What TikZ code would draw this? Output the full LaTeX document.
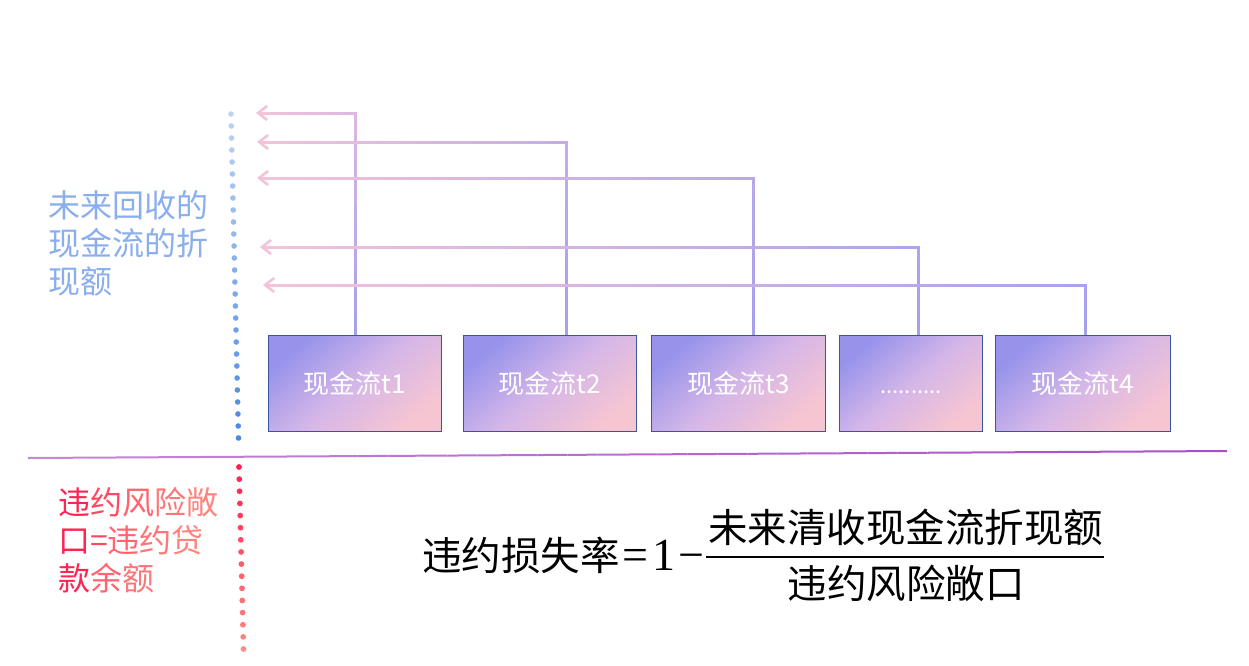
\documentclass[tikz,border=0pt]{standalone}
\usepackage{fontspec}
\usetikzlibrary{arrows.meta,calc}
\newfontfamily\cjk{Noto Sans CJK SC}
\newfontfamily\tnr{Liberation Serif}
\IfFontExistsTF{FandolSong-Regular.otf}{\newfontfamily\song{FandolSong-Regular.otf}}{\newfontfamily\song{Noto Sans CJK SC}}
\pgfdeclarelayer{bg}
\pgfsetlayers{bg,main}
\definecolor{pinkA}{HTML}{F3C3D9}
\definecolor{purpB}{HTML}{A59FEE}
\definecolor{boxA}{HTML}{9793EB}
\definecolor{boxB}{HTML}{D4B6E8}
\definecolor{boxC}{HTML}{F6C5D2}
\definecolor{boxLine}{HTML}{3A55A0}
\definecolor{dotBA}{HTML}{BCD4F6}
\definecolor{dotBB}{HTML}{4A88E0}
\definecolor{dotRA}{HTML}{FF2050}
\definecolor{dotRB}{HTML}{FF8C84}
\definecolor{blueTxt}{HTML}{8AAEEE}
\definecolor{sepA}{HTML}{C488DA}
\definecolor{sepB}{HTML}{A84EC6}
\definecolor{rA}{HTML}{FF2452}
\definecolor{rB}{HTML}{FF4862}
\definecolor{rC}{HTML}{FF6470}
\definecolor{rD}{HTML}{FF7678}
\definecolor{rE}{HTML}{FF847E}
% gradient line: #1 from, #2 to, #3 colour at 0, #4 colour at 100, #5 pct at from, #6 pct at to, #7 segments, #8 style
\newcommand\gradseg[8]{%
  \foreach \gi in {1,...,#7}{%
    \pgfmathsetmacro\gta{(\gi-1)/#7}%
    \pgfmathsetmacro\gtb{\gi/#7}%
    \pgfmathtruncatemacro\gcc{round(#5+(#6-#5)*(\gi-0.5)/#7)}%
    \draw[#8, draw=#4!\gcc!#3] ($(#1)!\gta!(#2)$) -- ($(#1)!\gtb!(#2)$);
  }}
\tikzset{
  cfbox/.style={draw=boxLine, line width=1pt, minimum height=96pt, inner sep=0pt,
    top color=boxA, bottom color=boxC, middle color=boxB, shading angle=40,
    text=white, font={\cjk\fontsize{26}{26}\selectfont},
    text height=24pt, text depth=4pt, anchor=north west},
  conn/.style={line width=3pt, line cap=rect},
  arrowhd/.style={draw=pinkA, line width=2.6pt, -{Straight Barb[length=9pt,width=14pt]}},
  sepline/.style={line width=2pt, line cap=butt},
  sidetext/.style={anchor=west, inner sep=0pt, align=left, font={\cjk\fontsize{32}{38}\selectfont}},
  fml/.style={inner sep=0pt, font={\song\fontsize{39.5}{40}\selectfont}},
  fracbar/.style={line width=1.6pt, draw=black}
}
\begin{document}
\begin{tikzpicture}[x=1pt,y=-1pt]
\begin{pgfonlayer}{bg}
\fill[white] (0,0) rectangle (1249,665);
\end{pgfonlayer}
\useasboundingbox (0,0) rectangle (1249,665);

% boxes
\node[cfbox, minimum width=173pt] (b1) at (268,335) {现金流t1};
\node[cfbox, minimum width=173pt] (b2) at (463,335) {现金流t2};
\node[cfbox, minimum width=174pt] (b3) at (651,335) {现金流t3};
\node[cfbox, minimum width=143pt, font={\cjk\fontsize{22}{22}\selectfont}] (b4) at (839,335) {..........};
\node[cfbox, minimum width=175pt] (b5) at (995,335) {现金流t4};

% connector coordinates
\coordinate (t1) at (256,113); \coordinate (c1) at (355,113);
\coordinate (t2) at (257,142); \coordinate (c2) at (566,142);
\coordinate (t3) at (257,178); \coordinate (c3) at (753,178);
\coordinate (t4) at (260,247); \coordinate (c4) at (918,247);
\coordinate (t5) at (263,285); \coordinate (c5) at (1085,285);
\foreach \k in {1,...,5}{\coordinate (h\k) at ($(t\k)+(4,0)$);}
\coordinate (v1) at (c1 |- b1.north);
\coordinate (v2) at (c2 |- b2.north);
\coordinate (v3) at (c3 |- b3.north);
\coordinate (v4) at (c4 |- b4.north);
\coordinate (v5) at (c5 |- b5.north);

\begin{pgfonlayer}{bg}
\gradseg{v1}{c1}{pinkA}{purpB}{100}{31}{10}{conn}
\gradseg{c1}{h1}{pinkA}{purpB}{31}{0}{8}{conn}
\gradseg{v2}{c2}{pinkA}{purpB}{100}{62}{10}{conn}
\gradseg{c2}{h2}{pinkA}{purpB}{62}{0}{16}{conn}
\gradseg{v3}{c3}{pinkA}{purpB}{100}{76}{8}{conn}
\gradseg{c3}{h3}{pinkA}{purpB}{76}{0}{24}{conn}
\gradseg{v4}{c4}{pinkA}{purpB}{100}{88}{5}{conn}
\gradseg{c4}{h4}{pinkA}{purpB}{88}{0}{30}{conn}
\gradseg{v5}{c5}{pinkA}{purpB}{100}{94}{4}{conn}
\gradseg{c5}{h5}{pinkA}{purpB}{94}{0}{36}{conn}
\end{pgfonlayer}
\foreach \k in {1,...,5}{\draw[arrowhd] ($(t\k)+(16,0)$) -- (t\k);}

% blue dotted line
\coordinate (db1) at (231,114); \coordinate (db2) at (238.5,438);
\foreach \i in {0,...,27}{%
  \pgfmathsetmacro\f{\i/27}%
  \pgfmathtruncatemacro\p{round(100*\i/27)}%
  \fill[dotBB!\p!dotBA] ($(db1)!\f!(db2)$) circle[radius=2.8pt];}

% red dotted line
\coordinate (dr1) at (239,467); \coordinate (dr2) at (243.5,649);
\foreach \i in {0,...,15}{%
  \pgfmathsetmacro\f{\i/15}%
  \pgfmathtruncatemacro\p{round(100*\i/15)}%
  \fill[dotRB!\p!dotRA] ($(dr1)!\f!(dr2)$) circle[radius=2.9pt];}

% separator
\coordinate (s1) at (28,458); \coordinate (s2) at (1227,451);
\gradseg{s1}{s2}{sepA}{sepB}{0}{100}{40}{sepline}

% side labels
\node[sidetext, text=blueTxt] (lblA) at (48,243) {未来回收的\\现金流的折\\现额};
\node[sidetext] (lblB) at (58,540) {\textcolor{rA}{违}\textcolor{rB}{约}\textcolor{rC}{风}\textcolor{rD}{险}\textcolor{rE}{敞}\\
\textcolor{rA}{口}\textcolor{rB}{=}\textcolor{rC}{违}\textcolor{rD}{约}\textcolor{rE}{贷}\\
\textcolor{rA}{款}\textcolor{rC}{余}\textcolor{rD}{额}};

% formula
\node[fml, anchor=base west] (lhs) at (422,570) {违约损失率\hspace{3pt}{\tnr\fontsize{46}{46}\selectfont =\hspace{4pt}1\hspace{3pt}−}};
\node[fml, anchor=base] (num) at (905.5,542) {未来清收现金流折现额};
\node[fml, anchor=base] (den) at (906,598) {违约风险敞口};
\coordinate (bl) at (706,557); \coordinate (br) at (1104,557);
\draw[fracbar] (bl) -- (br);
\end{tikzpicture}
\end{document}
